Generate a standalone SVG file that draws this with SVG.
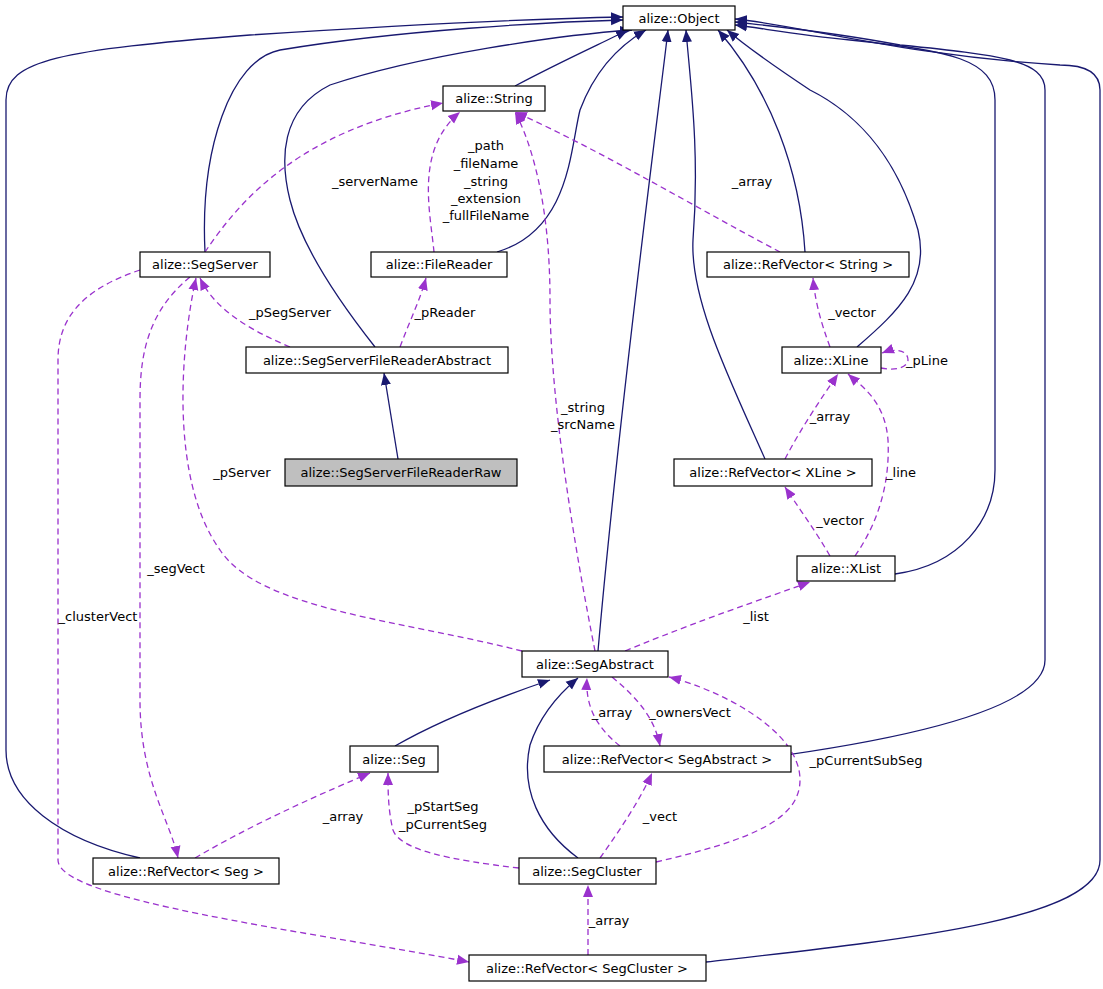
<svg xmlns="http://www.w3.org/2000/svg" width="1103" height="989" viewBox="0 0 1103 989">
<style>
.n rect{fill:#fff;stroke:#000;stroke-width:1.2}
.n text,.l{font-family:"DejaVu Sans",sans-serif;font-size:13px;fill:#000}
.n text{text-anchor:middle}
.l{text-anchor:middle}
.s{fill:none;stroke:#191970;stroke-width:1.3}
.d{fill:none;stroke:#9a32cd;stroke-width:1.3;stroke-dasharray:6,4}
</style>
<defs>
<marker id="as" markerUnits="userSpaceOnUse" markerWidth="14" markerHeight="12" refX="12" refY="6" orient="auto"><path d="M0,1 L12,6 L0,11 Z" fill="#191970"/></marker>
<marker id="ad" markerUnits="userSpaceOnUse" markerWidth="14" markerHeight="12" refX="12" refY="6" orient="auto"><path d="M0,1 L12,6 L0,11 Z" fill="#9a32cd"/></marker>
</defs>
<g id="edges">
<path class="s" marker-end="url(#as)" d="M515,86 C560,62 600,44 628,30"/>
<path class="s" marker-end="url(#as)" d="M205,252 C200,150 230,60 280,50 C400,30 550,22 623,20"/>
<path class="s" marker-end="url(#as)" d="M375,347 C330,290 300,240 290,200 C280,160 280,110 330,85 C420,55 560,35 632,30"/>
<path class="s" marker-end="url(#as)" d="M497,252 C570,230 570,150 580,110 C595,70 620,45 646,30"/>
<path class="s" marker-end="url(#as)" d="M598,651 C620,400 660,100 668,30"/>
<path class="s" marker-end="url(#as)" d="M765,459 C730,380 690,300 693,240 C700,150 690,80 686,30"/>
<path class="s" marker-end="url(#as)" d="M805,252 C800,170 770,90 718,30"/>
<path class="s" marker-end="url(#as)" d="M857,347 C900,310 930,280 918,230 C895,150 850,110 810,90 C780,70 750,50 727,30"/>
<path class="s" marker-end="url(#as)" d="M895,574 C960,565 995,520 995,470 L995,100 C995,60 950,50 850,40 C800,35 760,28 735,25"/>
<path class="s" marker-end="url(#as)" d="M757,759 C900,740 1045,710 1045,660 L1045,90 C1045,60 1000,55 900,45 C820,30 760,25 735,22"/>
<path class="s" marker-end="url(#as)" d="M706,962 C900,940 1100,920 1100,860 L1100,90 C1100,70 1080,65 1060,65 C900,55 800,25 735,19"/>
<path class="s" marker-end="url(#as)" d="M140,858 C60,840 6,800 6,750 L6,100 C6,60 60,50 250,35 C450,22 570,18 623,17"/>
<path class="s" marker-end="url(#as)" d="M398,459 L384,373"/>
<path class="s" marker-end="url(#as)" d="M395,746 C440,720 500,697 550,680"/>
<path class="s" marker-end="url(#as)" d="M578,858 C540,830 520,790 530,745 C540,715 560,693 578,678"/>
<path class="d" marker-end="url(#ad)" d="M205,252 C240,200 300,130 443,103"/>
<path class="d" marker-end="url(#ad)" d="M434,252 C430,210 415,150 460,112"/>
<path class="d" marker-end="url(#ad)" d="M780,252 C700,210 600,150 515,112"/>
<path class="d" marker-end="url(#ad)" d="M595,651 C575,550 550,400 550,300 C550,200 530,140 515,112"/>
<path class="d" marker-end="url(#ad)" d="M290,347 C250,330 215,310 200,278"/>
<path class="d" marker-end="url(#ad)" d="M400,347 C410,320 420,300 426,278"/>
<path class="d" marker-end="url(#ad)" d="M522,651 C400,620 260,610 220,550 C170,480 180,350 196,278"/>
<path class="d" marker-end="url(#ad)" d="M190,277 C150,310 140,350 140,400 L140,700 C140,780 170,820 178,858"/>
<path class="d" marker-end="url(#ad)" d="M140,270 C80,290 58,320 58,360 L58,860 C58,900 300,930 469,962"/>
<path class="d" marker-end="url(#ad)" d="M830,347 C820,320 815,300 813,278"/>
<path class="d" marker-end="url(#ad)" d="M881,368 C900,372 908,365 908,360 C908,350 895,348 882,353"/>
<path class="d" marker-end="url(#ad)" d="M785,459 C800,430 820,400 838,374"/>
<path class="d" marker-end="url(#ad)" d="M855,556 C880,520 890,480 888,440 C885,400 860,385 848,374"/>
<path class="d" marker-end="url(#ad)" d="M830,556 C815,530 800,510 785,487"/>
<path class="d" marker-end="url(#ad)" d="M625,651 C700,620 760,600 810,582"/>
<path class="d" marker-end="url(#ad)" d="M620,746 C600,730 585,710 587,678"/>
<path class="d" marker-end="url(#ad)" d="M612,677 C640,700 655,720 660,746"/>
<path class="d" marker-end="url(#ad)" d="M195,858 C260,820 330,790 370,773"/>
<path class="d" marker-end="url(#ad)" d="M519,868 C450,860 400,850 393,830 C388,810 388,790 388,773"/>
<path class="d" marker-end="url(#ad)" d="M600,858 C620,830 640,800 652,773"/>
<path class="d" marker-end="url(#ad)" d="M656,862 C750,840 800,820 800,780 C800,730 720,690 669,677"/>
<path class="d" marker-end="url(#ad)" d="M588,955 L588,885"/>
</g>
<g id="labels">
<text class="l" x="375" y="186">_serverName</text>
<text class="l" x="486" y="150">_path</text>
<text class="l" x="486" y="168">_fileName</text>
<text class="l" x="486" y="186">_string</text>
<text class="l" x="486" y="203">_extension</text>
<text class="l" x="486" y="220">_fullFileName</text>
<text class="l" x="752" y="186">_array</text>
<text class="l" x="583" y="412">_string</text>
<text class="l" x="583" y="429">_srcName</text>
<text class="l" x="290" y="317">_pSegServer</text>
<text class="l" x="445" y="317">_pReader</text>
<text class="l" x="242" y="477">_pServer</text>
<text class="l" x="176" y="573">_segVect</text>
<text class="l" x="98" y="621">_clusterVect</text>
<text class="l" x="852" y="317">_vector</text>
<text class="l" x="927" y="365">_pLine</text>
<text class="l" x="830" y="421">_array</text>
<text class="l" x="901" y="477">_line</text>
<text class="l" x="840" y="525">_vector</text>
<text class="l" x="756" y="621">_list</text>
<text class="l" x="612" y="717">_array</text>
<text class="l" x="690" y="717">_ownersVect</text>
<text class="l" x="343" y="821">_array</text>
<text class="l" x="443" y="811">_pStartSeg</text>
<text class="l" x="443" y="829">_pCurrentSeg</text>
<text class="l" x="660" y="821">_vect</text>
<text class="l" x="866" y="765">_pCurrentSubSeg</text>
<text class="l" x="609" y="925">_array</text>
</g>
<g id="n1" class="n"><rect x="623" y="6" width="112" height="24"/><text x="679" y="23">alize::Object</text></g>
<g id="n2" class="n"><rect x="443" y="86" width="102" height="25"/><text x="494" y="103">alize::String</text></g>
<g id="n3" class="n"><rect x="140" y="252" width="130" height="25"/><text x="205" y="269">alize::SegServer</text></g>
<g id="n4" class="n"><rect x="371" y="252" width="136" height="25"/><text x="439" y="269">alize::FileReader</text></g>
<g id="n5" class="n"><rect x="707" y="252" width="202" height="25"/><text x="808" y="269">alize::RefVector&lt; String &gt;</text></g>
<g id="n6" class="n"><rect x="246" y="347" width="262" height="26"/><text x="377" y="365">alize::SegServerFileReaderAbstract</text></g>
<g id="n7" class="n"><rect x="782" y="347" width="99" height="26"/><text x="831" y="365">alize::XLine</text></g>
<g id="n8" class="n"><rect x="285" y="459" width="232" height="27" style="fill:#bfbfbf"/><text x="401" y="477">alize::SegServerFileReaderRaw</text></g>
<g id="n9" class="n"><rect x="674" y="459" width="198" height="27"/><text x="773" y="477">alize::RefVector&lt; XLine &gt;</text></g>
<g id="n10" class="n"><rect x="797" y="556" width="98" height="25"/><text x="846" y="573">alize::XList</text></g>
<g id="n11" class="n"><rect x="522" y="651" width="146" height="26"/><text x="595" y="669">alize::SegAbstract</text></g>
<g id="n12" class="n"><rect x="350" y="746" width="88" height="26"/><text x="394" y="764">alize::Seg</text></g>
<g id="n13" class="n"><rect x="544" y="746" width="247" height="26"/><text x="667" y="764">alize::RefVector&lt; SegAbstract &gt;</text></g>
<g id="n14" class="n"><rect x="93" y="858" width="186" height="26"/><text x="186" y="876">alize::RefVector&lt; Seg &gt;</text></g>
<g id="n15" class="n"><rect x="519" y="858" width="137" height="26"/><text x="587" y="876">alize::SegCluster</text></g>
<g id="n16" class="n"><rect x="469" y="955" width="237" height="26"/><text x="587" y="973">alize::RefVector&lt; SegCluster &gt;</text></g>
</svg>
